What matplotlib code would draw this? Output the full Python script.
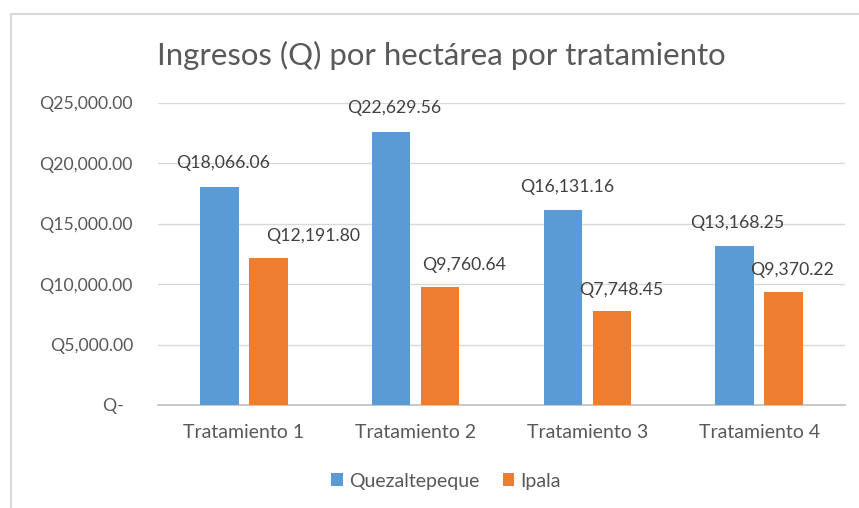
import matplotlib.pyplot as plt
import numpy as np
from matplotlib.patches import Rectangle
from matplotlib.ticker import FuncFormatter

categories = ["Tratamiento 1", "Tratamiento 2", "Tratamiento 3", "Tratamiento 4"]
quezaltepeque = [18066.06, 22629.56, 16131.16, 13168.25]
ipala = [12191.80, 9760.64, 7748.45, 9370.22]
y_ticks = [0, 5000, 10000, 15000, 20000, 25000]

plt.rcParams["font.family"] = ["Lato", "DejaVu Sans"]

fig = plt.figure(figsize=(8.59, 5.08), dpi=100)
ax = fig.add_axes([158 / 859, 1 - 405 / 508, (845 - 158) / 859, (405 - 103) / 508])

x = np.arange(len(categories))
w = 0.224
off = 0.143
blue = "#5B9BD5"
orange = "#ED7D31"
b1 = ax.bar(x - off, quezaltepeque, w, color=blue, label="Quezaltepeque", zorder=3)
b2 = ax.bar(x + off, ipala, w, color=orange, label="Ipala", zorder=3)


def money(v):
    return "Q{:,.2f}".format(v)


# label offsets (points) as placed in the original
blue_dx = [3, 2, 3, 2]
orange_dx = [32, 17, 7, 6]
for i in range(len(categories)):
    ax.annotate(money(quezaltepeque[i]), (x[i] - off, quezaltepeque[i]),
                xytext=(blue_dx[i], 11), textcoords="offset points",
                ha="center", va="bottom", fontsize=12.7, color="#404040")
    ax.annotate(money(ipala[i]), (x[i] + off, ipala[i]),
                xytext=(orange_dx[i], 10), textcoords="offset points",
                ha="center", va="bottom", fontsize=12.7, color="#404040")

ax.set_xlim(-0.5, len(categories) - 0.5)
ax.set_ylim(0, 25000)
ax.set_yticks(y_ticks)
ax.yaxis.set_major_formatter(FuncFormatter(lambda v, p: "Q-  " if v == 0 else money(v)))
ax.set_xticks(x)
ax.set_xticklabels(categories)
ax.tick_params(axis="y", length=0, pad=18, labelsize=12.7, labelcolor="#595959")
ax.tick_params(axis="x", length=0, pad=14, labelsize=14, labelcolor="#595959")
ax.grid(axis="y", color="#d9d9d9", lw=1, zorder=0)
for s in ["top", "right", "left"]:
    ax.spines[s].set_visible(False)
ax.spines["bottom"].set_color("#bfbfbf")
ax.spines["bottom"].set_linewidth(1.2)

fig.text(441 / 859, 1 - 55 / 508, "Ingresos (Q) por hectárea por tratamiento",
         ha="center", va="center", fontsize=22.4, color="#595959")

fig.legend(handles=[b1, b2], loc="center", bbox_to_anchor=(446 / 859, 1 - 481 / 508),
           ncol=2, frameon=False, fontsize=14, labelcolor="#595959",
           handlelength=0.6, handleheight=0.6, handletextpad=0.3, columnspacing=1.2)

fig.patches.append(Rectangle((11 / 859, -0.1), 1.2, 1 - 14 / 508 + 0.1,
                             transform=fig.transFigure, fill=False,
                             edgecolor="#d9d9d9", lw=1.5))

fig.savefig("out.png", dpi=100)
